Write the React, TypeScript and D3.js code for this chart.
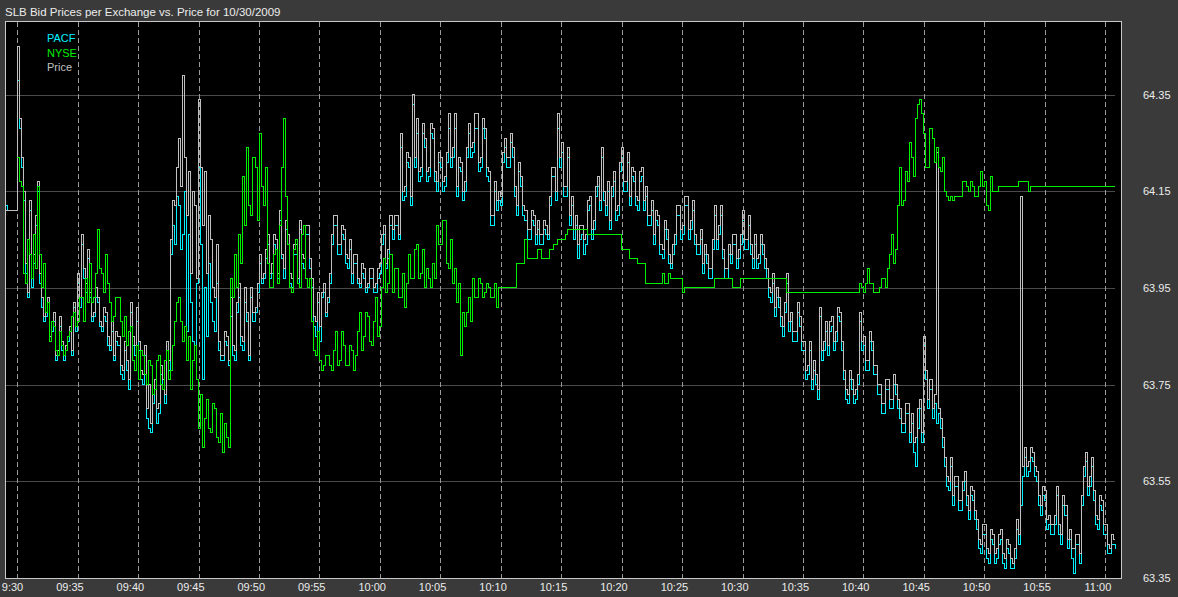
import React from "react";
import * as d3 from "d3";

const TITLE = "SLB Bid Prices per Exchange vs. Price for 10/30/2009";

// Each series is read at 10-second spacing starting 09:29:00 (minute -1 relative to 09:30).
// "...At00" arrays hold readings at :00/:20/:40, "...At10" arrays the readings 10 s later.
const SERIES_START_MIN = -1;
const STEP_MIN = 1 / 3;

const priceTickValues = [63.35, 63.55, 63.75, 63.95, 64.15, 64.35];
const timeTickMinutes = [0, 5, 10, 15, 20, 25, 30, 35, 40, 45, 50, 55, 60, 65, 70, 75, 80, 85, 90];
const timeTickLabels = ["9:30", "09:35", "09:40", "09:45", "09:50", "09:55", "10:00", "10:05", "10:10", "10:15", "10:20", "10:25", "10:30", "10:35", "10:40", "10:45", "10:50", "10:55", "11:00"];

const legendNames = ["PACF", "NYSE", "Price"];

const pacfAt00: number[] = [
  64.12, 64.11, 64.11,
  64.38, 64.20, 63.98, 64.11, 64.00, 64.15, 63.91, 63.89, 63.84, 63.88, 63.81, 63.82, 63.82, 63.86, 63.91,
  63.96, 64.04, 63.94, 63.93, 63.89, 63.92, 63.86, 63.88, 63.82, 63.80, 63.83, 63.76, 63.78, 63.90, 63.81,
  63.82, 63.75, 63.68, 63.65, 63.74, 63.69, 63.74, 63.82, 64.02, 64.04, 64.12, 64.06, 63.86, 63.92, 63.83,
  64.20, 63.76, 63.85, 63.92, 63.86, 63.82, 63.80, 63.83, 63.89, 63.80, 63.93, 63.82, 63.88, 63.93, 63.90,
  64.00, 63.97, 64.04, 63.98, 64.03, 64.09, 63.97, 64.04, 63.95, 64.02, 64.07, 63.99, 64.06, 63.95, 63.85,
  63.84, 63.94, 63.92, 64.04, 64.08, 64.02, 64.05, 63.99, 63.96, 64.00, 63.95, 63.97, 63.95, 63.97, 63.94,
  63.98, 64.06, 64.01, 64.05, 64.08, 64.24, 64.14, 64.20, 64.33, 64.27, 64.18, 64.24, 64.18, 64.26, 64.15,
  64.20, 64.16, 64.28, 64.22, 64.14, 64.19, 64.15, 64.27, 64.23, 64.28, 64.20, 64.26, 64.17, 64.08, 64.11,
  64.12, 64.24, 64.20, 64.22, 64.10, 64.16, 64.09, 64.05, 64.08, 64.07, 64.04, 64.06, 64.12, 64.18, 64.28,
  64.23, 64.14, 64.08, 64.05, 64.01, 64.06, 64.04, 64.12, 64.07, 64.16, 64.22, 64.10, 64.07, 64.17, 64.10,
  64.22, 64.15, 64.12, 64.17, 64.11, 64.18, 64.14, 64.08, 64.04, 64.08, 64.01, 64.05, 63.99, 64.04, 64.10,
  64.06, 64.12, 64.07, 64.04, 64.02, 63.98, 64.00, 63.97, 64.10, 64.06, 64.01, 63.97, 64.00, 64.04, 64.01,
  64.09, 64.03, 64.02, 64.04, 64.00, 64.02, 63.97, 63.92, 63.89, 63.91, 63.85, 63.96, 63.88, 63.84, 63.87,
  63.82, 63.77, 63.74, 63.75, 63.89, 63.82, 63.81, 63.87, 63.84, 63.88, 63.76, 63.71, 63.74, 63.72, 63.88,
  63.83, 63.78, 63.82, 63.77, 63.73, 63.69, 63.74, 63.70, 63.73, 63.68, 63.65, 63.69, 63.67, 63.58, 63.70,
  63.83, 63.70, 63.68, 63.67, 63.66, 63.58, 63.53, 63.50, 63.54, 63.49, 63.55, 63.47, 63.51, 63.45, 63.40,
  63.44, 63.38, 63.42, 63.39, 63.43, 63.37, 63.40, 63.37, 63.45, 63.50, 63.60, 63.57, 63.59, 63.55, 63.48,
  63.51, 63.46, 63.44, 63.52, 63.42, 63.48, 63.43, 63.36, 63.42, 63.50, 63.59, 63.54, 63.51, 63.45, 63.49,
  63.44, 63.40, 63.42,
];
const pacfAt10: number[] = [
  64.11, 64.11, 64.11,
  64.28, 64.13, 63.93, 63.95, 64.08, 63.96, 63.88, 63.92, 63.86, 63.80, 63.87, 63.80, 63.84, 63.81, 63.86,
  63.91, 63.97, 64.01, 63.88, 63.93, 63.87, 63.89, 63.83, 63.86, 63.84, 63.77, 63.82, 63.74, 63.83, 63.88,
  63.76, 63.81, 63.66, 63.71, 63.67, 63.77, 63.71, 63.78, 64.08, 64.14, 64.03, 64.15, 64.06, 63.84, 63.96,
  64.04, 63.95, 64.00, 63.88, 63.96, 63.80, 63.84, 63.79, 63.81, 63.90, 63.83, 63.92, 63.80, 63.88, 63.94,
  63.96, 64.01, 63.97, 64.04, 63.97, 64.01, 64.07, 63.96, 64.02, 63.96, 64.00, 64.06, 63.99, 63.87, 63.92,
  63.93, 63.89, 63.96, 64.08, 64.02, 64.06, 64.00, 64.03, 64.00, 63.96, 63.98, 63.94, 63.97, 63.94, 63.97,
  64.04, 63.99, 64.08, 64.08, 64.05, 64.13, 64.21, 64.12, 64.20, 64.17, 64.27, 64.17, 64.27, 64.17, 64.21,
  64.15, 64.21, 64.20, 64.28, 64.20, 64.13, 64.22, 64.22, 64.28, 64.19, 64.28, 64.18, 64.08, 64.15, 64.13,
  64.21, 64.20, 64.25, 64.14, 64.19, 64.10, 64.05, 64.09, 64.04, 64.04, 64.07, 64.05, 64.18, 64.13, 64.20,
  64.14, 64.22, 64.12, 64.08, 64.05, 64.02, 64.11, 64.05, 64.14, 64.11, 64.13, 64.15, 64.14, 64.09, 64.19,
  64.15, 64.21, 64.18, 64.12, 64.17, 64.11, 64.08, 64.11, 64.09, 64.02, 64.07, 64.00, 64.02, 64.10, 64.05,
  64.12, 64.05, 64.11, 64.02, 64.05, 64.02, 63.97, 64.03, 64.03, 64.10, 63.97, 64.02, 64.04, 63.99, 64.04,
  64.03, 64.08, 63.99, 63.99, 64.04, 63.99, 63.93, 63.96, 63.93, 63.87, 63.90, 63.86, 63.84, 63.90, 63.82,
  63.76, 63.82, 63.78, 63.72, 63.80, 63.86, 63.86, 63.82, 63.89, 63.82, 63.72, 63.76, 63.71, 63.75, 63.82,
  63.78, 63.84, 63.77, 63.73, 63.69, 63.74, 63.70, 63.75, 63.70, 63.65, 63.69, 63.63, 63.61, 63.66, 63.63,
  63.76, 63.74, 63.71, 63.69, 63.62, 63.54, 63.58, 63.54, 63.49, 63.53, 63.50, 63.52, 63.47, 63.41, 63.44,
  63.39, 63.43, 63.38, 63.42, 63.38, 63.41, 63.37, 63.39, 63.42, 63.56, 63.56, 63.60, 63.56, 63.50, 63.52,
  63.45, 63.44, 63.46, 63.44, 63.50, 63.41, 63.39, 63.42, 63.38, 63.56, 63.52, 63.58, 63.46, 63.50, 63.44,
  63.40, 63.42, 63.41,
];

const nyseAt00: (number | null)[] = [
  null, null, null,
  64.22, 64.16, 63.96, 64.02, 64.06, 64.16, 63.95, 63.90, 63.84, 63.87, 63.81, 63.83, 63.82, 63.86, 63.90,
  63.88, 63.93, 63.97, 64.00, 63.93, 64.07, 63.98, 64.02, 63.92, 63.89, 63.93, 63.85, 63.83, 63.87, 63.78,
  63.76, 63.81, 63.75, 63.79, 63.74, 63.81, 63.74, 63.82, 63.78, 63.88, 63.93, 63.84, 63.80, 63.74, 63.83,
  63.66, 63.62, 63.72, 63.65, 63.70, 63.63, 63.61, 63.64, 63.97, 64.02, 64.06, 64.18, 64.24, 64.10, 64.20,
  64.27, 64.12, 64.00, 63.95, 64.03, 64.08, 64.30, 64.04, 63.94, 64.05, 63.95, 64.08, 63.95, 63.88, 63.81,
  63.80, 63.79, 63.81, 63.78, 63.86, 63.80, 63.83, 63.79, 63.82, 63.81, 63.90, 63.85, 63.89, 63.83, 63.93,
  63.87, 64.01, 63.96, 63.94, 63.99, 63.93, 63.91, 64.02, 63.97, 64.04, 63.98, 63.95, 63.97, 64.00, 64.08,
  64.04, 64.09, 63.99, 63.96, 63.92, 63.81, 63.87, 63.93, 63.97, 63.93, 63.96, 63.94, 63.95, 63.93, 63.91,
  63.95, 63.95, 63.95, 63.95, 64.00, 64.00, 64.05, 64.01, 64.01, 64.03, 64.01, 64.01, 64.03, 64.04, 64.05,
  64.05, 64.06, 64.07, 64.07, 64.07, 64.07, 64.07, 64.06, 64.06, 64.06, 64.06, 64.06, 64.06, 64.06, 64.06,
  64.03, 64.03, 64.01, 64.01, 64.00, 64.00, 63.96, 63.96, 63.96, 63.96, 63.98, 63.96, 63.97, 63.97, 63.97,
  63.94, 63.95, 63.95, 63.95, 63.95, 63.95, 63.95, 63.95, 63.97, 63.97, 63.97, 63.97, 63.97, 63.95, 63.95,
  63.97, 63.97, 63.97, 63.97, 63.97, 63.97, 63.97, 63.97, 63.97, 63.97, 63.97, 63.94, 63.94, 63.94, 63.94,
  63.94, 63.94, 63.94, 63.94, 63.94, 63.94, 63.94, 63.94, 63.94, 63.94, 63.94, 63.94, 63.94, 63.94, 63.96,
  63.94, 63.99, 63.96, 63.94, 63.95, 63.97, 63.99, 64.06, 64.03, 64.20, 64.13, 64.17, 64.22, 64.30, 64.34,
  64.27, 64.20, 64.26, 64.24, 64.19, 64.15, 64.13, 64.13, 64.14, 64.14, 64.17, 64.15, 64.16, 64.14, 64.19,
  64.17, 64.11, 64.15, 64.15, 64.16, 64.16, 64.16, 64.16, 64.16, 64.17, 64.17, 64.15, 64.16, 64.16, 64.16,
  64.16, 64.16, 64.16, 64.16, 64.16, 64.16, 64.16, 64.16, 64.16, 64.16, 64.16, 64.16, 64.16, 64.16, 64.16,
  64.16, 64.16, 64.16,
];
const nyseAt10: (number | null)[] = [
  null, null, null,
  64.17, 63.98, 64.05, 63.97, 63.99, 64.02, 64.00, 63.92, 63.88, 63.82, 63.86, 63.81, 63.85, 63.89, 63.87,
  63.93, 63.88, 63.92, 63.92, 63.98, 63.99, 63.94, 63.96, 63.88, 63.93, 63.88, 63.89, 63.86, 63.80, 63.83,
  63.82, 63.77, 63.80, 63.73, 63.80, 63.75, 63.80, 63.76, 63.83, 63.92, 63.88, 63.87, 63.85, 63.80, 63.76,
  63.73, 63.68, 63.66, 63.71, 63.64, 63.69, 63.67, 63.62, 63.93, 63.95, 64.00, 64.08, 64.12, 64.22, 64.09,
  64.16, 64.20, 63.95, 64.02, 63.96, 64.20, 64.14, 63.95, 64.03, 63.96, 64.06, 63.97, 63.97, 63.82, 63.86,
  63.78, 63.81, 63.79, 63.82, 63.79, 63.86, 63.79, 63.83, 63.78, 63.86, 63.82, 63.90, 63.84, 63.88, 63.85,
  63.95, 63.94, 64.02, 63.99, 63.93, 63.98, 63.96, 63.97, 64.03, 63.97, 64.03, 63.99, 63.95, 63.97, 64.04,
  64.09, 64.00, 64.05, 63.99, 63.96, 63.90, 63.90, 63.88, 63.93, 63.97, 63.93, 63.96, 63.93, 63.96, 63.95,
  63.95, 63.95, 63.95, 63.95, 64.00, 64.00, 64.01, 64.01, 64.01, 64.03, 64.01, 64.01, 64.03, 64.04, 64.05,
  64.05, 64.07, 64.07, 64.07, 64.07, 64.07, 64.06, 64.06, 64.06, 64.06, 64.06, 64.06, 64.06, 64.06, 64.06,
  64.03, 64.03, 64.01, 64.01, 64.00, 64.00, 63.96, 63.96, 63.96, 63.96, 63.96, 63.98, 63.97, 63.97, 63.97,
  63.95, 63.95, 63.95, 63.95, 63.95, 63.95, 63.95, 63.95, 63.97, 63.97, 63.97, 63.97, 63.95, 63.95, 63.97,
  63.97, 63.97, 63.97, 63.97, 63.97, 63.97, 63.97, 63.97, 63.97, 63.97, 63.97, 63.94, 63.94, 63.94, 63.94,
  63.94, 63.94, 63.94, 63.94, 63.94, 63.94, 63.94, 63.94, 63.94, 63.94, 63.94, 63.94, 63.94, 63.94, 63.95,
  63.96, 63.96, 63.94, 63.94, 63.97, 63.95, 64.02, 64.00, 64.12, 64.12, 64.19, 64.25, 64.18, 64.33, 64.31,
  64.20, 64.28, 64.21, 64.20, 64.22, 64.14, 64.14, 64.14, 64.14, 64.17, 64.16, 64.17, 64.14, 64.16, 64.16,
  64.12, 64.18, 64.15, 64.16, 64.16, 64.16, 64.16, 64.16, 64.17, 64.17, 64.17, 64.16, 64.16, 64.16, 64.16,
  64.16, 64.16, 64.16, 64.16, 64.16, 64.16, 64.16, 64.16, 64.16, 64.16, 64.16, 64.16, 64.16, 64.16, 64.16,
  64.16, 64.16, 64.16,
];

const priceAt00: number[] = [
  64.11, 64.11, 64.11,
  64.45, 64.22, 64.00, 64.13, 64.02, 64.17, 63.93, 63.90, 63.85, 63.90, 63.82, 63.84, 63.83, 63.87, 63.92,
  63.98, 64.06, 63.96, 63.94, 63.90, 63.93, 63.87, 63.90, 63.83, 63.81, 63.85, 63.78, 63.80, 63.92, 63.83,
  63.84, 63.77, 63.70, 63.67, 63.76, 63.71, 63.76, 63.84, 64.05, 64.12, 64.26, 64.39, 64.10, 63.98, 64.12,
  64.34, 64.08, 63.98, 64.05, 63.93, 63.84, 63.81, 63.85, 63.93, 63.82, 63.96, 63.84, 63.90, 63.95, 63.91,
  64.02, 63.98, 64.06, 64.00, 64.05, 64.11, 63.99, 64.06, 63.97, 64.04, 64.09, 64.01, 64.08, 63.97, 63.88,
  63.87, 63.96, 63.93, 64.06, 64.10, 64.04, 64.07, 64.01, 63.98, 64.02, 63.96, 63.99, 63.96, 63.99, 63.96,
  64.00, 64.08, 64.03, 64.07, 64.10, 64.27, 64.16, 64.22, 64.35, 64.30, 64.20, 64.26, 64.20, 64.28, 64.17,
  64.22, 64.18, 64.31, 64.24, 64.16, 64.21, 64.17, 64.29, 64.25, 64.31, 64.22, 64.28, 64.19, 64.10, 64.13,
  64.14, 64.26, 64.22, 64.24, 64.12, 64.18, 64.11, 64.07, 64.10, 64.09, 64.06, 64.08, 64.14, 64.20, 64.31,
  64.25, 64.16, 64.10, 64.07, 64.04, 64.08, 64.06, 64.14, 64.09, 64.18, 64.24, 64.12, 64.09, 64.19, 64.12,
  64.24, 64.17, 64.14, 64.19, 64.13, 64.20, 64.16, 64.10, 64.06, 64.10, 64.03, 64.07, 64.00, 64.06, 64.12,
  64.08, 64.14, 64.09, 64.06, 64.04, 64.00, 64.02, 63.99, 64.12, 64.08, 64.03, 63.99, 64.02, 64.06, 64.03,
  64.11, 64.05, 64.04, 64.06, 64.02, 64.04, 63.99, 63.94, 63.91, 63.93, 63.87, 63.98, 63.90, 63.86, 63.89,
  63.84, 63.79, 63.76, 63.77, 63.91, 63.84, 63.83, 63.89, 63.86, 63.90, 63.78, 63.73, 63.76, 63.74, 63.90,
  63.85, 63.80, 63.84, 63.79, 63.75, 63.71, 63.76, 63.72, 63.75, 63.70, 63.67, 63.71, 63.69, 63.64, 63.72,
  63.85, 63.72, 63.70, 64.23, 63.68, 63.60, 63.55, 63.52, 63.56, 63.51, 63.57, 63.49, 63.53, 63.47, 63.42,
  63.46, 63.40, 63.44, 63.41, 63.45, 63.39, 63.42, 63.38, 63.47, 64.14, 63.62, 63.59, 63.61, 63.57, 63.50,
  63.53, 63.48, 63.46, 63.54, 63.44, 63.50, 63.45, 63.41, 63.44, 63.52, 63.61, 63.56, 63.53, 63.47, 63.51,
  63.46, 63.41, 63.43,
];
const priceAt10: number[] = [
  64.11, 64.11, 64.11,
  64.30, 64.15, 63.94, 63.97, 64.10, 63.98, 63.89, 63.93, 63.88, 63.81, 63.89, 63.81, 63.85, 63.82, 63.87,
  63.93, 63.99, 64.03, 63.89, 63.95, 63.88, 63.91, 63.85, 63.88, 63.86, 63.79, 63.84, 63.76, 63.85, 63.91,
  63.78, 63.83, 63.75, 63.73, 63.70, 63.79, 63.73, 63.80, 64.13, 64.20, 64.16, 64.22, 64.19, 64.15, 63.97,
  64.20, 64.19, 64.10, 63.95, 64.04, 63.81, 63.86, 63.80, 63.83, 63.92, 63.85, 63.95, 63.81, 63.90, 63.96,
  63.97, 64.03, 63.98, 64.06, 63.98, 64.02, 64.09, 63.98, 64.04, 63.97, 64.02, 64.08, 64.01, 63.89, 63.94,
  63.94, 63.90, 63.98, 64.10, 64.04, 64.08, 64.02, 64.05, 64.02, 63.97, 64.00, 63.95, 63.99, 63.95, 63.99,
  64.06, 64.00, 64.10, 64.10, 64.06, 64.15, 64.23, 64.14, 64.22, 64.19, 64.29, 64.19, 64.29, 64.19, 64.23,
  64.17, 64.23, 64.22, 64.31, 64.22, 64.15, 64.24, 64.24, 64.31, 64.21, 64.30, 64.20, 64.10, 64.17, 64.15,
  64.23, 64.22, 64.27, 64.16, 64.21, 64.12, 64.07, 64.11, 64.06, 64.06, 64.09, 64.06, 64.20, 64.15, 64.22,
  64.16, 64.24, 64.14, 64.10, 64.08, 64.05, 64.13, 64.07, 64.16, 64.13, 64.15, 64.17, 64.16, 64.11, 64.21,
  64.17, 64.23, 64.20, 64.14, 64.19, 64.13, 64.10, 64.13, 64.11, 64.04, 64.09, 64.02, 64.04, 64.12, 64.07,
  64.14, 64.07, 64.13, 64.04, 64.07, 64.04, 63.99, 64.05, 64.05, 64.12, 63.99, 64.04, 64.06, 64.01, 64.06,
  64.05, 64.10, 64.01, 64.01, 64.06, 64.01, 63.95, 63.98, 63.95, 63.89, 63.92, 63.88, 63.86, 63.92, 63.84,
  63.78, 63.84, 63.80, 63.74, 63.82, 63.88, 63.88, 63.84, 63.91, 63.84, 63.74, 63.78, 63.73, 63.77, 63.84,
  63.80, 63.86, 63.79, 63.75, 63.71, 63.76, 63.72, 63.77, 63.72, 63.67, 63.71, 63.65, 63.63, 63.70, 63.65,
  63.78, 63.76, 63.73, 63.70, 63.64, 63.56, 63.60, 63.56, 63.51, 63.55, 63.52, 63.54, 63.49, 63.43, 63.46,
  63.41, 63.45, 63.40, 63.44, 63.40, 63.43, 63.39, 63.41, 63.44, 63.58, 63.58, 63.62, 63.58, 63.52, 63.54,
  63.47, 63.46, 63.48, 63.46, 63.52, 63.43, 63.41, 63.44, 63.40, 63.58, 63.54, 63.60, 63.48, 63.52, 63.46,
  63.42, 63.44, 63.43,
];

const W = 1178;
const H = 597;
const PL = 6;
const PR = 1121;
const PT = 22;
const PB = 578;
const GRID_RIGHT = 1115;

const BG = "#3a3a3a";
const TEXT = "#ececec";
const CYAN = "#00f0ff";
const GREEN = "#00ee00";
const GRAY = "#c0c0c0";
const FONT = "'Liberation Sans', Arial, sans-serif";

type Pt = { t: number; v: number | null };

function interleave(at00: (number | null)[], at10: (number | null)[]): Pt[] {
  const out: Pt[] = [];
  at00.forEach((v, i) => {
    const t = SERIES_START_MIN + i * STEP_MIN;
    out.push({ t, v });
    out.push({ t: t + STEP_MIN / 2, v: at10[i] });
  });
  return out;
}

export default function App() {
  const x = d3.scaleLinear().domain([-0.93, 91.3]).range([PL, PR]);
  const y = d3.scaleLinear().domain([63.35, 64.5]).range([PB, PT]);

  const line = d3
    .line<Pt>()
    .defined((d) => d.v != null)
    .x((d) => x(d.t))
    .y((d) => y(d.v as number))
    .curve(d3.curveStepAfter);

  const series = [
    { name: legendNames[0], pts: interleave(pacfAt00, pacfAt10), color: CYAN },
    { name: legendNames[2], pts: interleave(priceAt00, priceAt10), color: GRAY },
    { name: legendNames[1], pts: interleave(nyseAt00, nyseAt10), color: GREEN },
  ];
  const legendColors = [CYAN, GREEN, GRAY];

  return (
    <svg
      width={W}
      height={H}
      style={{ position: "absolute", left: 0, top: 0, display: "block", background: BG }}
      fontFamily={FONT}
    >
      <rect x={0} y={0} width={W} height={H} fill={BG} />
      <text x={5} y={16} fill={TEXT} fontSize={11.5}>
        {TITLE}
      </text>
      <rect x={PL} y={PT} width={PR - PL} height={PB - PT} fill="#000" />
      <defs>
        <clipPath id="plotclip">
          <rect x={PL} y={PT} width={PR - PL} height={PB - PT} />
        </clipPath>
      </defs>
      <g shapeRendering="crispEdges">
        {priceTickValues.map((v) => (
          <line key={"h" + v} x1={PL} x2={GRID_RIGHT} y1={Math.round(y(v)) + 0.5} y2={Math.round(y(v)) + 0.5} stroke="#4a4a4a" strokeWidth={1} />
        ))}
        {timeTickMinutes.map((m) => (
          <line
            key={"v" + m}
            x1={Math.round(x(m)) + 0.5}
            x2={Math.round(x(m)) + 0.5}
            y1={PT}
            y2={PB}
            stroke="#9a9a9a"
            strokeWidth={1}
            strokeDasharray="5,3"
          />
        ))}
      </g>
      <g clipPath="url(#plotclip)" shapeRendering="crispEdges">
        {series.map((s) => (
          <path key={s.name} d={line(s.pts) || ""} fill="none" stroke={s.color} strokeWidth={1} />
        ))}
      </g>
      <rect x={PL - 0.5} y={PT - 0.5} width={PR - PL + 1} height={PB - PT + 1} fill="none" stroke="#c8c8c8" strokeWidth={1} shapeRendering="crispEdges" />
      {legendNames.map((n, i) => (
        <text key={n} x={47} y={42 + i * 14.7} fill={legendColors[i]} fontSize={11}>
          {n}
        </text>
      ))}
      {priceTickValues.map((v) => (
        <text key={"yl" + v} x={1143} y={y(v) + 4} fill={TEXT} fontSize={11}>
          {v.toFixed(2)}
        </text>
      ))}
      {timeTickMinutes.map((m, i) => (
        <text key={"xl" + m} x={x(m) + 6} y={591} fill={TEXT} fontSize={11} textAnchor="end">
          {timeTickLabels[i]}
        </text>
      ))}
    </svg>
  );
}
